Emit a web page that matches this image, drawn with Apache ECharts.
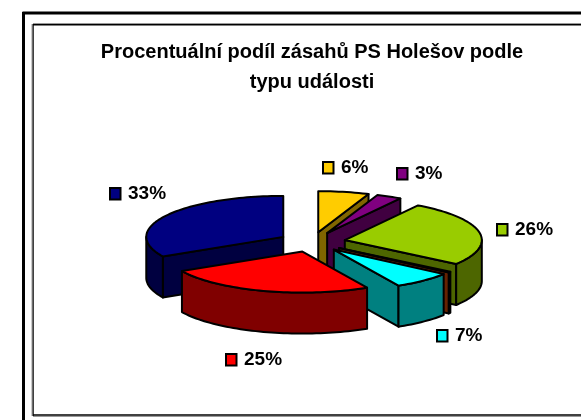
<!DOCTYPE html>
<html>
<head>
<meta charset="utf-8">
<style>
  html, body { margin: 0; padding: 0; background: #fff; }
  #main { width: 581px; height: 420px; }
</style>
<script src="https://cdn.jsdelivr.net/npm/echarts@6/dist/echarts.min.js"></script>
</head>
<body>
<div id="main"></div>
<script>
// data, clockwise from 12 o'clock (the 0.3 one is the thin unlabelled sliver)
var categories = ['a', 'b', 'c', 'd', 'e', 'f', 'g'];
var values = [6, 3, 26, 0.3, 7, 25, 33];
var valueLabels = ['6%', '3%', '26%', '', '7%', '25%', '33%'];
var titleLines = ['Procentuální podíl zásahů PS Holešov podle', 'typu události'];

var topColors = ['#ffcc00', '#800080', '#99cc00', '#993300', '#00ffff', '#ff0000', '#000080'];
var sideColors = ['#806600', '#400040', '#4d6600', '#662200', '#008080', '#800000', '#000040'];

// pie geometry
var cx = 312, cy = 242, rx = 137, ry = 41, depth = 41, explode = 0.244;
// legend key top-left for each labelled slice
var labelSpots = [[323, 162], [397, 168], [497, 224], null, [437, 330], [226, 354], [110, 188]];

var total = values.reduce(function (a, b) { return a + b; }, 0);
var rows = [];
var acc = 0;
for (var i = 0; i < values.length; i++) {
  var from = acc / total * Math.PI * 2;
  acc += values[i];
  var to = acc / total * Math.PI * 2;
  var mid = (from + to) / 2;
  rows.push({
    value: [i, from, to, cx + Math.sin(mid) * explode * rx, cy - Math.cos(mid) * explode * ry]
  });
}
// back to front
rows.sort(function (a, b) { return a.value[4] - b.value[4]; });

function rim(px, py, a) {
  return [px + Math.sin(a) * rx, py - Math.cos(a) * ry];
}
function down(p) {
  return [p[0], p[1] + depth];
}
function poly(points, fill) {
  return {
    type: 'polygon',
    shape: { points: points },
    style: { fill: fill, stroke: '#000', lineWidth: 2, lineJoin: 'round' }
  };
}

function renderSlice(params, api) {
  var idx = api.value(0), from = api.value(1), to = api.value(2);
  var px = api.value(3), py = api.value(4);
  var side = sideColors[idx];
  var children = [];
  var apex = [px, py];

  // cut faces, only those looking at the viewer
  if (Math.sin(from) < 0) {
    var qf = rim(px, py, from);
    children.push(poly([apex, qf, down(qf), down(apex)], side));
  }
  if (Math.sin(to) > 0) {
    var qt = rim(px, py, to);
    children.push(poly([apex, qt, down(qt), down(apex)], side));
  }

  // outer wall, only the part turned towards the viewer
  var a0 = Math.max(from, Math.PI / 2), a1 = Math.min(to, Math.PI * 1.5);
  if (a1 > a0) {
    var upper = [], lower = [];
    for (var a = a0; a < a1; a += 0.03) {
      var p = rim(px, py, a);
      upper.push(p);
      lower.unshift(down(p));
    }
    upper.push(rim(px, py, a1));
    lower.unshift(down(rim(px, py, a1)));
    children.push(poly(upper.concat(lower), side));
  }

  // top
  var top = [apex];
  for (var b = from; b < to; b += 0.03) {
    top.push(rim(px, py, b));
  }
  top.push(rim(px, py, to));
  children.push(poly(top, topColors[idx]));

  // legend key + value
  var spot = labelSpots[idx];
  if (spot) {
    children.push({
      type: 'rect',
      shape: { x: spot[0], y: spot[1], width: 10.5, height: 11.5 },
      style: { fill: topColors[idx], stroke: '#000', lineWidth: 2 }
    });
    children.push({
      type: 'text',
      style: {
        x: spot[0] + 18, y: spot[1] + 6,
        text: valueLabels[idx],
        fill: '#000',
        font: 'bold 19px "Liberation Sans", Arial, sans-serif',
        verticalAlign: 'middle'
      }
    });
  }
  return { type: 'group', children: children };
}

var myChart = echarts.init(document.getElementById('main'), null, { renderer: 'canvas' });

function frameLine(x1, y1, x2, y2, color, width) {
  return {
    type: 'line',
    shape: { x1: x1, y1: y1, x2: x2, y2: y2 },
    style: { stroke: color, lineWidth: width },
    silent: true
  };
}

var option = {
  animation: false,
  backgroundColor: '#fff',
  title: {
    text: titleLines.join('\n'),
    left: 307,
    top: 33,
    textAlign: 'center',
    textStyle: {
      fontFamily: '"Liberation Sans", Arial, sans-serif',
      fontSize: 20,
      fontWeight: 'bold',
      color: '#000',
      lineHeight: 29.5
    }
  },
  graphic: [
    // outer frame, no right or bottom edge in the picture
    frameLine(22.5, 13, 581, 13, '#000', 3),
    frameLine(23.5, 12, 23.5, 420, '#000', 3),
    // inner frame
    frameLine(33, 24.7, 581, 24.7, '#000', 1.5),
    frameLine(33, 23.5, 581, 23.5, '#999', 1),
    frameLine(33, 24, 33, 416, '#000', 1.5),
    frameLine(32, 24, 32, 416, '#999', 1),
    frameLine(33, 415, 581, 415, '#000', 1.5),
    frameLine(33, 416.5, 581, 416.5, '#999', 1)
  ],
  series: [{
    type: 'custom',
    coordinateSystem: 'none',
    renderItem: renderSlice,
    data: rows
  }]
};
myChart.setOption(option);
</script>
</body>
</html>
